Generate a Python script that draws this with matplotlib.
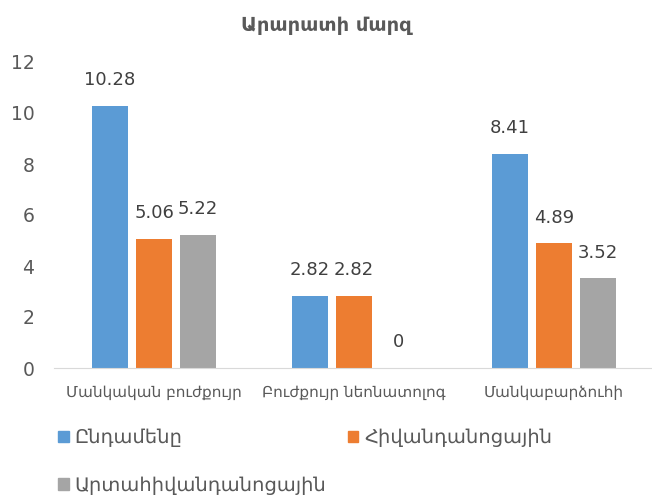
import numpy as np
from matplotlib import pyplot as plt
from matplotlib.patches import Patch

categories = ['Մանկական բուժքույր', 'Բուժքույր նեոնատոլոգ', 'Մանկաբարձուհի']
series_names = ['Ընդամենը', 'Հիվանդանոցային', 'Արտահիվանդանոցային']
total = [10.28, 2.82, 8.41]
hospital = [5.06, 2.82, 4.89]
outpatient = [5.22, 0, 3.52]
colors = ['#5B9BD5', '#ED7D31', '#A5A5A5']

plt.rcParams['font.family'] = ['DejaVu Sans']
text_color = '#595959'

fig = plt.figure(figsize=(6.52, 5.01), dpi=100)
ax = fig.add_axes([54 / 652, 133 / 501, 598 / 652, 306 / 501])

x = np.arange(len(categories))
width = 0.18
offset = 0.22
for i, (vals, c) in enumerate(zip([total, hospital, outpatient], colors)):
  pos = x + (i - 1) * offset
  ax.bar(pos, vals, width=width, color=c, label=series_names[i])
  for p, v in zip(pos, vals):
    ax.annotate(f'{v:g}', (p, v), xytext=(0, 12), textcoords='offset points',
                ha='center', va='bottom', fontsize=13, color='#404040')

ax.set_xlim(-0.5, 2.49)
ax.set_ylim(0, 12)
ax.set_yticks(range(0, 13, 2))
ax.set_xticks(x, labels=categories)
ax.tick_params(axis='y', length=0, labelsize=13.5, colors=text_color, pad=14)
ax.tick_params(axis='x', length=0, labelsize=11, colors=text_color, pad=12)
for s in ['top', 'right', 'left']:
  ax.spines[s].set_visible(False)
ax.spines['bottom'].set_color('#D9D9D9')

fig.text(0.5, 0.95, 'Արարատի մարզ', ha='center', va='center',
         fontsize=14, fontweight='bold', color=text_color)

handles = [Patch(color=colors[0]), Patch(color=colors[2]), Patch(color=colors[1])]
labels = [series_names[0], series_names[2], series_names[1]]
fig.legend(handles, labels, ncol=2, loc='upper left', bbox_to_anchor=(0.068, 0.172),
           frameon=False, fontsize=14, labelcolor=text_color, handlelength=0.55,
           handleheight=0.55, handletextpad=0.3, columnspacing=1.1, labelspacing=1.45,
           borderpad=0.2)

fig.savefig('out.png', dpi=100)
